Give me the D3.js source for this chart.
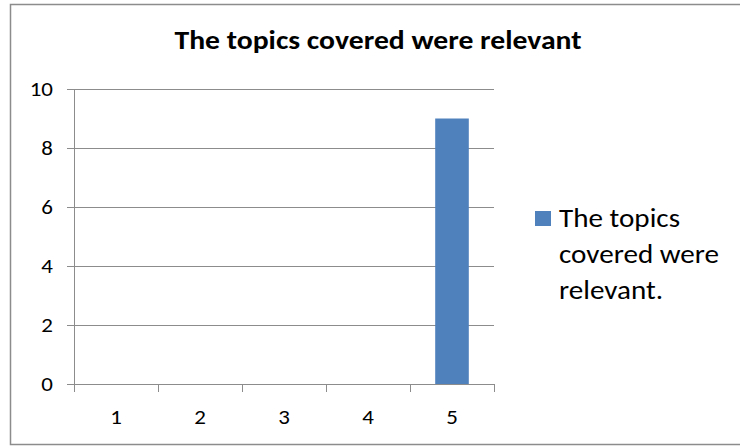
<!DOCTYPE html>
<html>
<head>
<meta charset="utf-8">
<script src="https://cdn.jsdelivr.net/npm/d3@7"></script>
<style>
  body { margin: 0; background: #fff; }
  text { font-family: Carlito, Calibri, Lato, sans-serif; fill: #000; }
</style>
</head>
<body>
<script>
// data
var categories = ['1', '2', '3', '4', '5'];
var values = [0, 0, 0, 0, 9];
var yTicks = [0, 2, 4, 6, 8, 10];
var title = 'The topics covered were relevant';
var legendLines = ['The topics', 'covered were', 'relevant.'];

var w = 740, h = 446;
var stretch = 1.12; // source picture is a bit wider than the font
var svg = d3.select('body').append('svg').attr('width', w).attr('height', h);

// place a text at (px, py), stretched sideways
var place = function(sel, px, py){
  sel.attr('transform', function(d, i){
    var a = typeof px === 'function' ? px(d, i) : px;
    var b = typeof py === 'function' ? py(d, i) : py;
    return 'translate(' + a + ',' + b + ') scale(' + stretch + ',1)';
  });
};

// outer frame
svg.append('rect')
  .attr('x', 10.5).attr('y', 4.5)
  .attr('width', w).attr('height', 440)
  .attr('fill', 'none').attr('stroke', '#8c8c8c').attr('stroke-width', 1.5);

var pLeft = 74, pRight = 494, pTop = 89, pBottom = 384;

var x = d3.scaleBand().domain(categories).range([pLeft, pRight]).paddingInner(0.6).paddingOuter(0.3);
var xb = d3.scaleBand().domain(categories).range([pLeft, pRight]);
var y = d3.scaleLinear().domain([0, 10]).range([pBottom, pTop]);

// grid lines
svg.selectAll('.grid').data(yTicks).enter().append('line')
  .attr('x1', pLeft - 7).attr('x2', pRight)
  .attr('y1', function(d){ return y(d) + 0.5; })
  .attr('y2', function(d){ return y(d) + 0.5; })
  .attr('stroke', '#8c8c8c').attr('stroke-width', 1);

// y axis
svg.append('line')
  .attr('x1', pLeft + 0.5).attr('x2', pLeft + 0.5)
  .attr('y1', pTop).attr('y2', pBottom + 8)
  .attr('stroke', '#8c8c8c');

// x ticks at band edges
var edges = categories.map(function(c){ return xb(c); }).concat([pRight]);
svg.selectAll('.xt').data(edges).enter().append('line')
  .attr('x1', function(d){ return d + 0.5; })
  .attr('x2', function(d){ return d + 0.5; })
  .attr('y1', pBottom).attr('y2', pBottom + 8)
  .attr('stroke', '#8c8c8c');

// bars
svg.selectAll('.bar').data(values).enter().append('rect')
  .attr('x', function(d, i){ return x(categories[i]); })
  .attr('width', x.bandwidth())
  .attr('y', function(d){ return y(d); })
  .attr('height', function(d){ return pBottom - y(d); })
  .attr('fill', '#4f81bd');

// y labels
svg.selectAll('.yl').data(yTicks).enter().append('text')
  .call(place, 53, function(d){ return y(d); })
  .attr('dy', '0.35em').attr('text-anchor', 'end')
  .style('font-size', '20.5px')
  .text(function(d){ return d; });

// x labels
svg.selectAll('.xl').data(categories).enter().append('text')
  .call(place, function(d){ return xb(d) + xb.bandwidth() / 2; }, 424)
  .attr('text-anchor', 'middle')
  .style('font-size', '20.5px')
  .text(function(d){ return d; });

// title
svg.append('text')
  .call(place, 378, 49)
  .attr('text-anchor', 'middle')
  .style('font-size', '26.5px').style('font-weight', 'bold')
  .text(title);

// legend
svg.append('rect').attr('x', 535).attr('y', 211).attr('width', 16).attr('height', 15).attr('fill', '#4f81bd');
svg.selectAll('.lg').data(legendLines).enter().append('text')
  .call(place, 559, function(d, i){ return 227 + i * 36; })
  .style('font-size', '26px')
  .text(function(d){ return d; });
</script>
</body>
</html>
